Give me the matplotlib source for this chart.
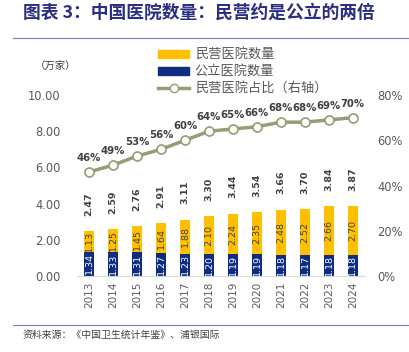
import numpy as np
import matplotlib.pyplot as plt
from matplotlib.lines import Line2D
from matplotlib.patches import Patch

plt.rcParams['font.family'] = ['Noto Sans CJK SC', 'DejaVu Sans']

years = ['2013', '2014', '2015', '2016', '2017', '2018', '2019', '2020', '2021', '2022', '2023', '2024']
public = [1.34, 1.33, 1.31, 1.27, 1.23, 1.20, 1.19, 1.19, 1.18, 1.17, 1.18, 1.18]
private = [1.13, 1.25, 1.45, 1.64, 1.88, 2.10, 2.24, 2.35, 2.48, 2.52, 2.66, 2.70]
total = [2.47, 2.59, 2.76, 2.91, 3.11, 3.30, 3.44, 3.54, 3.66, 3.70, 3.84, 3.87]
share = [46, 49, 53, 56, 60, 64, 65, 66, 68, 68, 69, 70]

yellow = '#FFC000'
navy = '#0E2C82'
olive = '#9A9A74'
gray = '#595959'

fig = plt.figure(figsize=(4.1, 3.52), dpi=100)
ax = fig.add_axes([0.188, 0.216, 0.702, 0.514])
x = np.arange(len(years))
w = 0.44

ax.bar(x, public, w, color=navy)
ax.bar(x, private, w, bottom=public, color=yellow)
for i in range(len(x)):
    ax.text(x[i], public[i] / 2, '%.2f' % public[i], rotation=90, ha='center', va='center',
            color='white', fontsize=6.8, family='DejaVu Sans')
    ax.text(x[i], public[i] + private[i] / 2, '%.2f' % private[i], rotation=90, ha='center',
            va='center', color='#404040', fontsize=6.8, family='DejaVu Sans')
    ax.annotate('%.2f' % total[i], (x[i], total[i]), xytext=(0, 11), textcoords='offset points',
                rotation=90, ha='center', va='bottom', color='#404040', fontsize=6.8,
                fontweight='bold', family='DejaVu Sans')

ax.set_ylim(0, 10)
ax.set_yticks([0, 2, 4, 6, 8, 10])
ax.set_yticklabels(['%.2f' % v for v in [0, 2, 4, 6, 8, 10]], family='DejaVu Sans')
ax.set_xlim(-0.5, len(x) - 0.5)
ax.set_xticks(x)
ax.set_xticklabels(years, rotation=90, family='DejaVu Sans')
ax.tick_params(axis='both', length=0, colors=gray, labelsize=8.3)
ax.tick_params(axis='y', pad=12)
ax.tick_params(axis='x', labelsize=7.5, pad=4)
for s in ['top', 'right', 'left']:
    ax.spines[s].set_visible(False)
ax.spines['bottom'].set_color('#D9D9D9')

ax2 = ax.twinx()
ax2.plot(x, share, color=olive, lw=2.5, marker='o', ms=6.5, mfc='white', mec=olive, mew=1.2)
for i in range(len(x)):
    ax2.annotate('%d%%' % share[i], (x[i], share[i]), xytext=(0, 6.5), textcoords='offset points',
                 ha='center', va='bottom', color='#404040', fontsize=7.3, fontweight='bold',
                 family='DejaVu Sans')
ax2.set_ylim(0, 80)
ax2.set_yticks([0, 20, 40, 60, 80])
ax2.set_yticklabels(['%d%%' % v for v in [0, 20, 40, 60, 80]], family='DejaVu Sans')
ax2.tick_params(length=0, colors=gray, labelsize=8.3, pad=9)
for s in ax2.spines.values():
    s.set_visible(False)

handles = [Patch(color=yellow), Patch(color=navy),
           Line2D([0], [0], color=olive, lw=2.5, marker='o', ms=6, mfc='white', mec=olive)]
labels = ['民营医院数量', '公立医院数量', '民营医院占比（右轴）']
leg = fig.legend(handles, labels, loc='upper left', bbox_to_anchor=(0.372, 0.878), frameon=False,
                 fontsize=9.5, handlelength=2.4, handleheight=0.55, labelspacing=0.3,
                 borderaxespad=0, handletextpad=0.4)
for t in leg.get_texts():
    t.set_color(gray)

fig.text(0.085, 0.81, '（万家）', fontsize=7.5, color='#404040', va='center')

fig.text(0.056, 0.965, '图表 3：中国医院数量：民营约是公立的两倍', fontsize=12.8, fontweight='bold',
         color='#2B2E83', va='center')
fig.add_artist(Line2D([0.032, 1.0], [0.892, 0.892], color='#7F7FAF', lw=0.8))
fig.add_artist(Line2D([0.032, 1.0], [0.077, 0.077], color='#7F7FAF', lw=0.8))
fig.text(0.054, 0.048, '资料来源：《中国卫生统计年鉴》、浦银国际', fontsize=7.1, color='#404040', va='center')

fig.savefig('out.png', dpi=100)
